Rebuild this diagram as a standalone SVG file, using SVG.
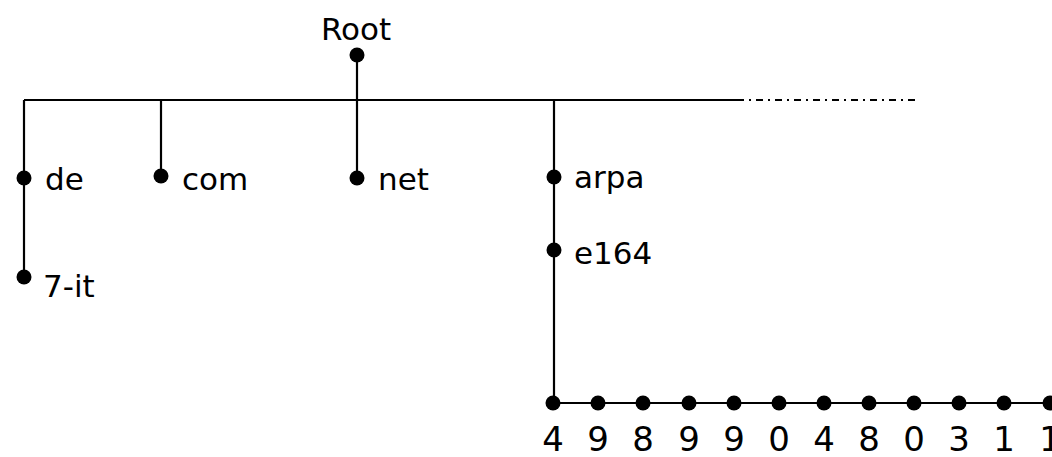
<svg xmlns="http://www.w3.org/2000/svg" width="1052" height="457" viewBox="0 0 1052 457">
<style>
.ln{stroke:#000;stroke-width:2.2;fill:none}
.dot{fill:#000}
.lbl{font-family:"DejaVu Sans",sans-serif;font-size:31px;fill:#000}
.dig{font-family:"DejaVu Sans",sans-serif;font-size:34px;fill:#000;text-anchor:middle}
</style>
<rect width="1052" height="457" fill="#fff"/>
<g id="connectors">
<path class="ln" d="M24 100 H737"/>
<path class="ln" d="M737 100 H918" stroke-dasharray="7 5 2 5"/>
<path class="ln" d="M357 55 V178"/>
<path class="ln" d="M24 100 V277"/>
<path class="ln" d="M161 100 V176"/>
<path class="ln" d="M554 100 V403"/>
<path class="ln" d="M553 403 H1052"/>
</g>
<g id="root"><circle class="dot" cx="357" cy="55" r="7.5"/><text class="lbl" x="356" y="40" text-anchor="middle">Root</text></g>
<g id="de"><circle class="dot" cx="24" cy="178" r="7.5"/><text class="lbl" x="45" y="190">de</text></g>
<g id="com"><circle class="dot" cx="161" cy="176" r="7.5"/><text class="lbl" x="182" y="190">com</text></g>
<g id="net"><circle class="dot" cx="357" cy="178" r="7.5"/><text class="lbl" x="378" y="190">net</text></g>
<g id="it7"><circle class="dot" cx="24" cy="277" r="7.5"/><text class="lbl" x="43" y="297">7-it</text></g>
<g id="arpa"><circle class="dot" cx="554" cy="177" r="7.5"/><text class="lbl" x="574" y="188">arpa</text></g>
<g id="e164"><circle class="dot" cx="554" cy="250" r="7.5"/><text class="lbl" x="574" y="264">e164</text></g>
<g id="d1"><circle class="dot" cx="553" cy="403" r="7.5"/><text class="dig" x="553" y="451">4</text></g>
<g id="d2"><circle class="dot" cx="598" cy="403" r="7.5"/><text class="dig" x="598" y="451">9</text></g>
<g id="d3"><circle class="dot" cx="643" cy="403" r="7.5"/><text class="dig" x="643" y="451">8</text></g>
<g id="d4"><circle class="dot" cx="689" cy="403" r="7.5"/><text class="dig" x="689" y="451">9</text></g>
<g id="d5"><circle class="dot" cx="734" cy="403" r="7.5"/><text class="dig" x="734" y="451">9</text></g>
<g id="d6"><circle class="dot" cx="779" cy="403" r="7.5"/><text class="dig" x="779" y="451">0</text></g>
<g id="d7"><circle class="dot" cx="824" cy="403" r="7.5"/><text class="dig" x="824" y="451">4</text></g>
<g id="d8"><circle class="dot" cx="869" cy="403" r="7.5"/><text class="dig" x="869" y="451">8</text></g>
<g id="d9"><circle class="dot" cx="914" cy="403" r="7.5"/><text class="dig" x="914" y="451">0</text></g>
<g id="d10"><circle class="dot" cx="959" cy="403" r="7.5"/><text class="dig" x="959" y="451">3</text></g>
<g id="d11"><circle class="dot" cx="1004" cy="403" r="7.5"/><text class="dig" x="1004" y="451">1</text></g>
<g id="d12"><circle class="dot" cx="1050" cy="403" r="7.5"/><text class="dig" x="1050" y="451">1</text></g>
</svg>
